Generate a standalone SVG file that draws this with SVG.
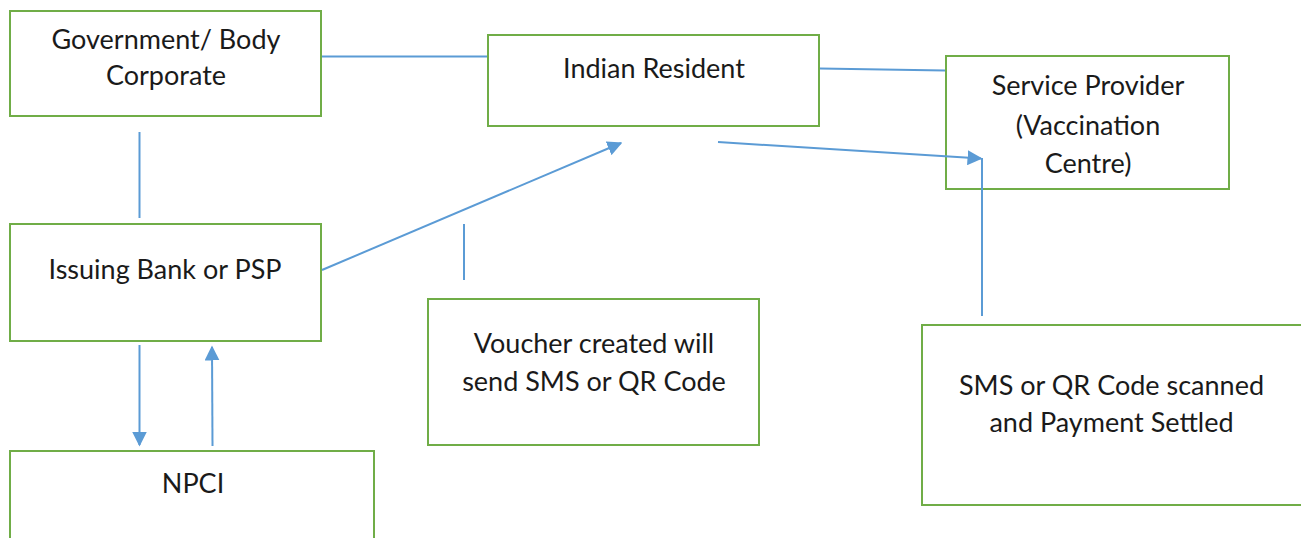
<svg xmlns="http://www.w3.org/2000/svg" width="1301" height="538" viewBox="0 0 1301 538">
<style>
.box{fill:#fff;stroke:#70AD47;stroke-width:2}
.t{font-family:Lato,"Open Sans",sans-serif;font-size:27px;fill:#1a1a1a;text-anchor:middle}
.c{stroke:#5B9BD5;stroke-width:2;fill:none}
</style>
<defs>
<marker id="ah" viewBox="0 0 10 10" refX="9" refY="5" markerWidth="7.5" markerHeight="7.5" orient="auto">
<path d="M0,0 L10,5 L0,10 z" fill="#5B9BD5"/>
</marker>
</defs>
<rect width="1301" height="538" fill="#fff"/>
<g id="government">
<rect class="box" x="10" y="11" width="311" height="105"/>
<text class="t" x="166" y="49">Government/ Body</text>
<text class="t" x="166" y="85">Corporate</text>
</g>
<g id="resident">
<rect class="box" x="488" y="35" width="331" height="91"/>
<text class="t" x="654" y="78">Indian Resident</text>
</g>
<g id="provider">
<rect class="box" x="946" y="56" width="283" height="133"/>
<text class="t" x="1088" y="95">Service Provider</text>
<text class="t" x="1088" y="135">(Vaccination</text>
<text class="t" x="1088" y="173">Centre)</text>
</g>
<g id="bank">
<rect class="box" x="10" y="224" width="311" height="117"/>
<text class="t" x="165" y="279">Issuing Bank or PSP</text>
</g>
<g id="npci">
<rect class="box" x="10" y="451" width="364" height="100"/>
<text class="t" x="193" y="493">NPCI</text>
</g>
<g id="voucher">
<rect class="box" x="428" y="299" width="331" height="146"/>
<text class="t" x="594" y="353">Voucher created will</text>
<text class="t" x="594" y="391">send SMS or QR Code</text>
</g>
<g id="settled">
<rect class="box" x="922" y="325" width="390" height="180"/>
<text class="t" x="1111.5" y="395">SMS or QR Code scanned</text>
<text class="t" x="1111.5" y="432">and Payment Settled</text>
</g>
<g id="connectors">
<line class="c" x1="322" y1="56.5" x2="487" y2="56.5"/>
<line class="c" x1="820" y1="68.5" x2="945" y2="70.5"/>
<line class="c" x1="139.5" y1="132" x2="139.5" y2="218"/>
<line class="c" x1="322" y1="270" x2="621" y2="143" marker-end="url(#ah)"/>
<line class="c" x1="464" y1="224" x2="464" y2="280"/>
<line class="c" x1="718" y1="142" x2="981" y2="158.5" marker-end="url(#ah)"/>
<line class="c" x1="982" y1="158" x2="982" y2="316"/>
<line class="c" x1="139.5" y1="345" x2="139.5" y2="445" marker-end="url(#ah)"/>
<line class="c" x1="212.5" y1="446" x2="212" y2="347" marker-end="url(#ah)"/>
</g>
</svg>
